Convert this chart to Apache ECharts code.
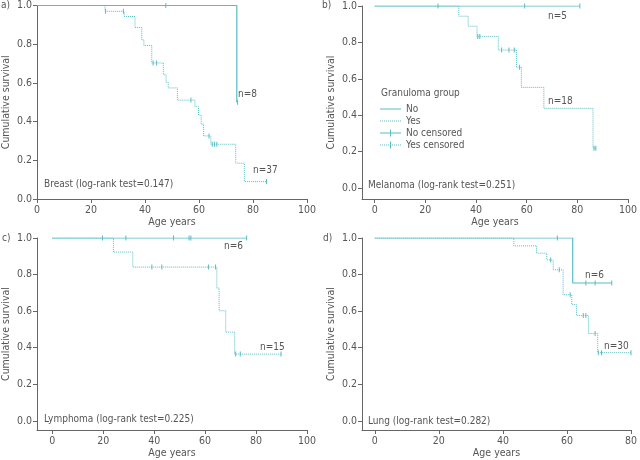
<!DOCTYPE html>
<html>
<head>
<meta charset="utf-8">
<script src="https://cdn.jsdelivr.net/npm/echarts@6/dist/echarts.min.js"></script>
<style>html,body{margin:0;padding:0;background:#fff;}#c{width:640px;height:460px;}</style>
</head>
<body>
<div id="c"></div>
<script>
// ---------- DATA ----------
// Panel a) Breast
const breastNoTime = [0, 74, 74.3];
const breastNoSurv = [1, 0.5, 0.5];
const breastNoCensTime = [47.7, 74.3];
const breastNoCensSurv = [1, 0.5];
const breastYesTime = [0, 25.2, 32.3, 36.3, 38.8, 39.6, 42.5, 46.8, 47.8, 48.6, 52, 58.5, 59.8, 60.8, 61.7, 64.4, 73.6, 76.8, 85];
const breastYesSurv = [1, 0.97, 0.943, 0.886, 0.822, 0.793, 0.703, 0.642, 0.603, 0.574, 0.511, 0.477, 0.434, 0.387, 0.326, 0.283, 0.185, 0.09, 0.09];
const breastYesCensTime = [25.4, 32, 43, 44.3, 57, 63.7, 64.9, 65.7, 66.6, 85];
const breastYesCensSurv = [0.97, 0.97, 0.703, 0.703, 0.511, 0.326, 0.283, 0.283, 0.283, 0.09];

// Panel b) Melanoma
const melNoTime = [0, 81];
const melNoSurv = [1, 1];
const melNoCensTime = [25, 59.2, 81];
const melNoCensSurv = [1, 1, 1];
const melYesTime = [0, 33.2, 36.9, 40.4, 48.8, 56, 57.9, 66.8, 86.2, 87.3];
const melYesSurv = [1, 0.944, 0.889, 0.833, 0.758, 0.664, 0.553, 0.438, 0.219, 0.219];
const melYesCensTime = [40.7, 41.5, 50.1, 53, 55.1, 57.2, 86.6, 87.3];
const melYesCensSurv = [0.833, 0.833, 0.758, 0.758, 0.758, 0.664, 0.219, 0.219];

// Panel c) Lymphoma
const lymNoTime = [0, 76.3];
const lymNoSurv = [1, 1];
const lymNoCensTime = [19.7, 28.9, 47.6, 53.7, 54.4, 76.3];
const lymNoCensSurv = [1, 1, 1, 1, 1, 1];
const lymYesTime = [0, 24, 31.6, 64.6, 65.5, 68.1, 71.6, 89.8];
const lymYesSurv = [1, 0.923, 0.841, 0.726, 0.602, 0.485, 0.365, 0.365];
const lymYesCensTime = [39.1, 43, 61.3, 64.1, 72, 73.8, 89.8];
const lymYesCensSurv = [0.841, 0.841, 0.841, 0.841, 0.365, 0.365, 0.365];

// Panel d) Lung
const lungNoTime = [0, 61.8, 74];
const lungNoSurv = [1, 0.754, 0.754];
const lungNoCensTime = [57, 65.9, 68.8, 74];
const lungNoCensSurv = [1, 0.754, 0.754, 0.754];
const lungYesTime = [0, 43.4, 50.5, 53.7, 55.7, 58.8, 61.5, 63, 66.7, 69.6, 80];
const lungYesSurv = [1, 0.957, 0.917, 0.88, 0.826, 0.69, 0.636, 0.576, 0.478, 0.373, 0.373];
const lungYesCensTime = [54.9, 57.6, 61, 65.1, 65.9, 68.8, 69.8, 70.8, 80];
const lungYesCensSurv = [0.88, 0.826, 0.69, 0.576, 0.576, 0.478, 0.373, 0.373, 0.373];

// Tick labels
const xTicks100 = [0, 20, 40, 60, 80, 100];
const xTicks80 = [0, 20, 40, 60, 80];
const yTicks = [0, 0.2, 0.4, 0.6, 0.8, 1.0];

const panelLetters = ['a)', 'b)', 'c)', 'd)'];
const panelNotes = ['Breast (log-rank test=0.147)', 'Melanoma (log-rank test=0.251)', 'Lymphoma (log-rank test=0.225)', 'Lung (log-rank test=0.282)'];
const nLabels = [['n=8', 'n=37'], ['n=5', 'n=18'], ['n=6', 'n=15'], ['n=6', 'n=30']];
const legendTitle = 'Granuloma group';
const legendNames = ['No', 'Yes', 'No censored', 'Yes censored'];

// ---------- CHART ----------
const FONT = '"DejaVu Sans Condensed", sans-serif';
const FS = 10;
const TEAL = '#58bcc3';
const AXIS = '#666';
const TXT = '#555';
const zip = (a, b) => a.map((v, i) => [v, b[i]]);

const panels = [
  { no: [breastNoTime, breastNoSurv], noC: [breastNoCensTime, breastNoCensSurv], yes: [breastYesTime, breastYesSurv], yesC: [breastYesCensTime, breastYesCensSurv] },
  { no: [melNoTime, melNoSurv], noC: [melNoCensTime, melNoCensSurv], yes: [melYesTime, melYesSurv], yesC: [melYesCensTime, melYesCensSurv] },
  { no: [lymNoTime, lymNoSurv], noC: [lymNoCensTime, lymNoCensSurv], yes: [lymYesTime, lymYesSurv], yesC: [lymYesCensTime, lymYesCensSurv] },
  { no: [lungNoTime, lungNoSurv], noC: [lungNoCensTime, lungNoCensSurv], yes: [lungYesTime, lungYesSurv], yesC: [lungYesCensTime, lungYesCensSurv] }
];

const layout = [
  { grid: { left: 37, top: 5, width: 270, height: 194 }, xmin: 0, xmax: 100, ymin: 0, ticks: xTicks100 },
  { grid: { left: 362, top: 6, width: 269, height: 193 }, xmin: -5, xmax: 100, ymin: -0.06, ticks: xTicks100 },
  { grid: { left: 37, top: 238, width: 270, height: 193 }, xmin: -6, xmax: 100, ymin: -0.05, ticks: xTicks100 },
  { grid: { left: 362, top: 238, width: 269, height: 193 }, xmin: -4, xmax: 80, ymin: -0.05, ticks: xTicks80 }
];

const axisCommon = {
  axisLine: { onZero: false, lineStyle: { color: AXIS, width: 1 } },
  axisTick: { length: 4, lineStyle: { color: AXIS } },
  splitLine: { show: false },
  nameTextStyle: { color: TXT, fontSize: FS + 0.5, fontFamily: FONT }
};

const grids = layout.map(l => Object.assign({ containLabel: false }, l.grid));
const xAxes = layout.map((l, i) => Object.assign({}, axisCommon, {
  type: 'value', gridIndex: i, min: l.xmin, max: l.xmax,
  name: 'Age years', nameLocation: 'middle', nameGap: 18,
  axisTick: Object.assign({}, axisCommon.axisTick, { customValues: l.ticks }),
  axisLabel: { customValues: l.ticks, color: TXT, fontSize: FS + 0.5, fontFamily: FONT, margin: 6 }
}));
const yAxes = layout.map((l, i) => Object.assign({}, axisCommon, {
  type: 'value', gridIndex: i, min: l.ymin, max: 1,
  name: 'Cumulative survival', nameLocation: 'middle', nameGap: 25,
  axisTick: Object.assign({}, axisCommon.axisTick, { customValues: yTicks }),
  axisLabel: { customValues: yTicks, color: TXT, fontSize: FS + 0.5, fontFamily: FONT, margin: 5, formatter: v => v.toFixed(1) }
}));

const series = [];
panels.forEach((p, i) => {
  series.push({
    name: 'No', type: 'line', step: 'end', xAxisIndex: i, yAxisIndex: i,
    data: zip(p.no[0], p.no[1]), symbol: 'none', silent: true,
    lineStyle: { color: TEAL, width: 1.2, type: 'solid' }, itemStyle: { color: TEAL }, z: 3
  });
  series.push({
    name: 'Yes', type: 'line', step: 'end', xAxisIndex: i, yAxisIndex: i,
    data: zip(p.yes[0], p.yes[1]), symbol: 'none', silent: true,
    lineStyle: { color: TEAL, width: 1, type: [1, 1] }, itemStyle: { color: TEAL }, z: 2
  });
  series.push({
    name: 'No censored', type: 'scatter', xAxisIndex: i, yAxisIndex: i,
    data: zip(p.noC[0], p.noC[1]), symbol: 'rect', symbolSize: [1, 5],
    silent: true, itemStyle: { color: TEAL, opacity: 1 }, z: 4
  });
  series.push({
    name: 'Yes censored', type: 'scatter', xAxisIndex: i, yAxisIndex: i,
    data: zip(p.yesC[0], p.yesC[1]), symbol: 'rect', symbolSize: [1, 5],
    silent: true, itemStyle: { color: TEAL, opacity: 1 }, z: 4
  });
});

// legend icons (21 x 7 boxes)
let dots = '';
for (let x = 0; x < 21; x += 2) dots += 'M' + x + ',3h1v1h-1z';
const iconNo = 'path://M0,3h21v1h-21z';
const iconYes = 'path://' + dots;
const iconNoC = 'path://M0,3h21v1h-21zM10,0h1v7h-1z';
const iconYesC = 'path://' + dots + 'M10,0h1v7h-1z';

const txt = (x, y, s) => ({
  type: 'text', left: x, top: y,
  style: { text: s, fill: TXT, fontSize: FS, fontFamily: FONT }
});

const letterPos = [[1, 0], [322, 0], [2, 233], [323, 233]];
const notePos = [[44, 179], [368, 180], [44, 414], [368, 416]];
const nPos = [[[238, 89], [253, 165]], [[548, 11], [548, 96]], [[224, 241], [260, 342]], [[585, 270], [604, 341]]];

const graphics = [];
panelLetters.forEach((s, i) => graphics.push(txt(letterPos[i][0], letterPos[i][1], s)));
panelNotes.forEach((s, i) => graphics.push(txt(notePos[i][0], notePos[i][1], s)));
nLabels.forEach((pair, i) => pair.forEach((s, j) => graphics.push(txt(nPos[i][j][0], nPos[i][j][1], s))));
graphics.push(txt(381, 88, legendTitle));

const chart = echarts.init(document.getElementById('c'), null, { renderer: 'canvas' });
chart.setOption({
  animation: false,
  backgroundColor: '#fff',
  textStyle: { fontFamily: FONT },
  grid: grids,
  xAxis: xAxes,
  yAxis: yAxes,
  legend: {
    left: 380, top: 104, orient: 'vertical', itemWidth: 21, itemHeight: 7, itemGap: 2,
    padding: 0,
    symbolKeepAspect: true,
    textStyle: { color: TXT, fontSize: FS, fontFamily: FONT },
    selectedMode: false,
    itemStyle: { borderWidth: 0 },
    data: [
      { name: legendNames[0], icon: iconNo },
      { name: legendNames[1], icon: iconYes },
      { name: legendNames[2], icon: iconNoC },
      { name: legendNames[3], icon: iconYesC }
    ]
  },
  graphic: graphics,
  series: series
});
</script>
</body>
</html>
